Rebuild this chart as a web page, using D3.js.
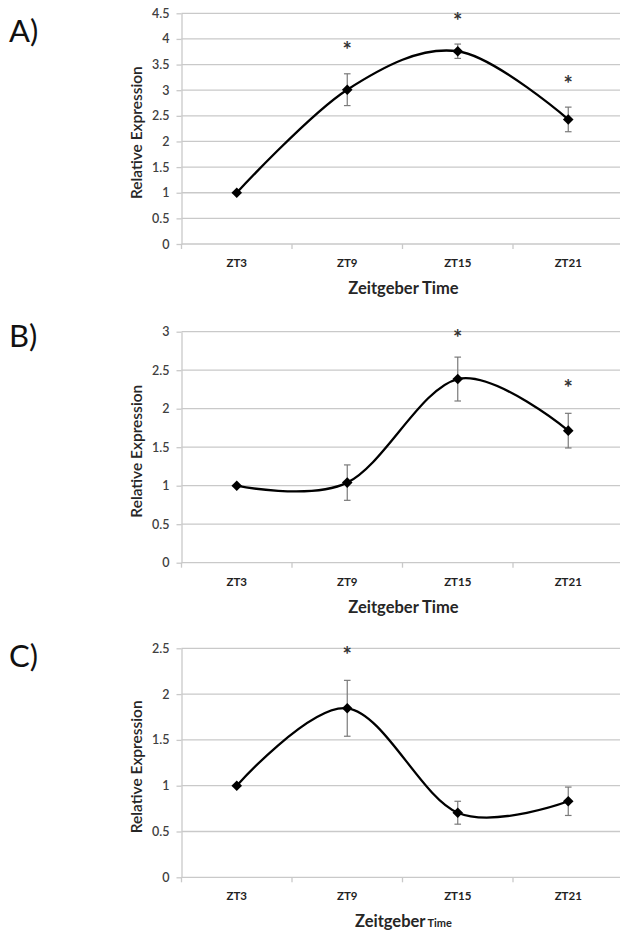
<!DOCTYPE html>
<html><head><meta charset="utf-8">
<script src="https://cdn.jsdelivr.net/npm/d3@7"></script>
<style>body{margin:0;background:#fff} svg{display:block}</style>
</head><body>
<svg id="chart" width="620" height="931"></svg>
<script>
// ---- data ----
const categories = ["ZT3", "ZT9", "ZT15", "ZT21"];
const panelLabels = ["A)", "B)", "C)"];
const yTitle = "Relative Expression";
const xTitle = "Zeitgeber Time";

const valuesA = [1.00, 3.01, 3.76, 2.43];
const errorsA = [0, 0.31, 0.14, 0.24];
const starsA = [null, 3.82, 4.39, 3.16];
const yTicksA = [0, 0.5, 1, 1.5, 2, 2.5, 3, 3.5, 4, 4.5];

const valuesB = [1.00, 1.04, 2.385, 1.715];
const errorsB = [0, 0.23, 0.285, 0.225];
const starsB = [null, null, 2.95, 2.30];
const yTicksB = [0, 0.5, 1, 1.5, 2, 2.5, 3];

const valuesC = [1.00, 1.845, 0.705, 0.83];
const errorsC = [0, 0.305, 0.125, 0.155];
const starsC = [null, 2.45, null, null];
const yTicksC = [0, 0.5, 1, 1.5, 2, 2.5];

// ---- layout ----
const svg = d3.select("#chart");
svg.append("rect").attr("width", 620).attr("height", 931).attr("fill", "#fff");
const FONT = "Lato, 'Open Sans', sans-serif";
const plotLeft = 181.5, plotRight = 623.5;
const panels = [
  {values: valuesA, errors: errorsA, stars: starsA, ticks: yTicksA, top: 13.3, bottom: 244, labelY: 42, split: false},
  {values: valuesB, errors: errorsB, stars: starsB, ticks: yTicksB, top: 331.7, bottom: 562.7, labelY: 346.7, split: false},
  {values: valuesC, errors: errorsC, stars: starsC, ticks: yTicksC, top: 648.3, bottom: 877.3, labelY: 666.7, split: true}
];
const x = d3.scaleBand().domain(categories).range([plotLeft, plotRight]).padding(0);
const gridColor = "#c9c9c9";

panels.forEach((p, i) => {
  const g = svg.append("g");
  const y = d3.scaleLinear().domain([0, d3.max(p.ticks)]).range([p.bottom, p.top]);

  // gridlines
  g.append("g").selectAll("line").data(p.ticks).join("line")
    .attr("x1", plotLeft).attr("x2", 620)
    .attr("y1", d => y(d)).attr("y2", d => y(d))
    .attr("stroke", gridColor).attr("stroke-width", 1.3);

  // y axis
  const ya = g.append("g").attr("transform", `translate(${plotLeft},0)`)
    .call(d3.axisLeft(y).tickValues(p.ticks).tickSizeInner(5).tickSizeOuter(0)
      .tickPadding(7).tickFormat(d3.format("~g")));
  ya.select(".domain").attr("stroke", gridColor).attr("stroke-width", 1.3);
  ya.selectAll(".tick line").attr("stroke", gridColor).attr("stroke-width", 1.3);
  ya.selectAll(".tick text").attr("font-family", FONT).attr("font-size", 12.5)
    .attr("fill", "#404040").attr("font-weight", 600);

  // x axis: ticks between categories
  const edges = categories.map(c => x(c)).concat([x(categories[categories.length - 1]) + x.bandwidth()]);
  g.append("g").selectAll("line").data(edges).join("line")
    .attr("x1", d => d).attr("x2", d => d)
    .attr("y1", p.bottom).attr("y2", p.bottom + 5)
    .attr("stroke", gridColor).attr("stroke-width", 1.3);
  const xa = g.append("g").attr("transform", `translate(0,${p.bottom})`)
    .call(d3.axisBottom(x).tickSize(0).tickPadding(15));
  xa.select(".domain").remove();
  xa.selectAll(".tick text").attr("font-family", FONT).attr("font-size", 11.5)
    .attr("font-weight", 700).attr("fill", "#222");

  // axis titles
  g.append("text")
    .attr("transform", `translate(142,${(p.top + p.bottom) / 2 + 4}) rotate(-90)`)
    .attr("text-anchor", "middle").attr("font-family", FONT).attr("font-size", 15.5)
    .attr("font-weight", 600).attr("fill", "#262626").text(yTitle);
  const xt = g.append("text").attr("x", (plotLeft + plotRight) / 2 + 1).attr("y", p.bottom + 50)
    .attr("text-anchor", "middle").attr("font-family", FONT).attr("font-weight", 700)
    .attr("fill", "#262626");
  if (p.split) {
    const parts = xTitle.split(" ");
    xt.append("tspan").attr("font-size", 16.5).text(parts[0]);
    xt.append("tspan").attr("font-size", 11).attr("dx", 2).text(parts[1]);
  } else {
    xt.attr("font-size", 16.5).text(xTitle);
  }

  // panel label
  svg.append("text").attr("x", 9).attr("y", p.labelY).attr("font-family", FONT)
    .attr("font-size", 31).attr("fill", "#111").text(panelLabels[i]);

  const pts = categories.map((c, k) => ({c, v: p.values[k], e: p.errors[k], s: p.stars[k]}));
  const cx = d => x(d.c) + x.bandwidth() / 2;

  // error bars
  const eb = g.append("g").attr("stroke", "#7a7a7a").attr("stroke-width", 1.2);
  pts.filter(d => d.e > 0).forEach(d => {
    eb.append("line").attr("x1", cx(d)).attr("x2", cx(d)).attr("y1", y(d.v - d.e)).attr("y2", y(d.v + d.e));
    eb.append("line").attr("x1", cx(d) - 3.3).attr("x2", cx(d) + 3.3).attr("y1", y(d.v - d.e)).attr("y2", y(d.v - d.e));
    eb.append("line").attr("x1", cx(d) - 3.3).attr("x2", cx(d) + 3.3).attr("y1", y(d.v + d.e)).attr("y2", y(d.v + d.e));
  });

  // smoothed line
  const line = d3.line().x(cx).y(d => y(d.v)).curve(d3.curveCardinal.tension(0));
  g.append("path").datum(pts).attr("d", line).attr("fill", "none")
    .attr("stroke", "#000").attr("stroke-width", 2.3);

  // diamond markers
  g.append("g").selectAll("path").data(pts).join("path")
    .attr("d", d3.symbol(d3.symbolSquare, 56)())
    .attr("transform", d => `translate(${cx(d)},${y(d.v)}) rotate(45)`)
    .attr("fill", "#000");

  // significance stars
  g.append("g").selectAll("text").data(pts.filter(d => d.s != null)).join("text")
    .attr("x", d => cx(d)).attr("y", d => y(d.s) + 10)
    .attr("text-anchor", "middle").attr("font-family", FONT).attr("font-size", 22)
    .attr("font-weight", 700).attr("fill", "#333").text("*");
});
</script>
</body></html>
